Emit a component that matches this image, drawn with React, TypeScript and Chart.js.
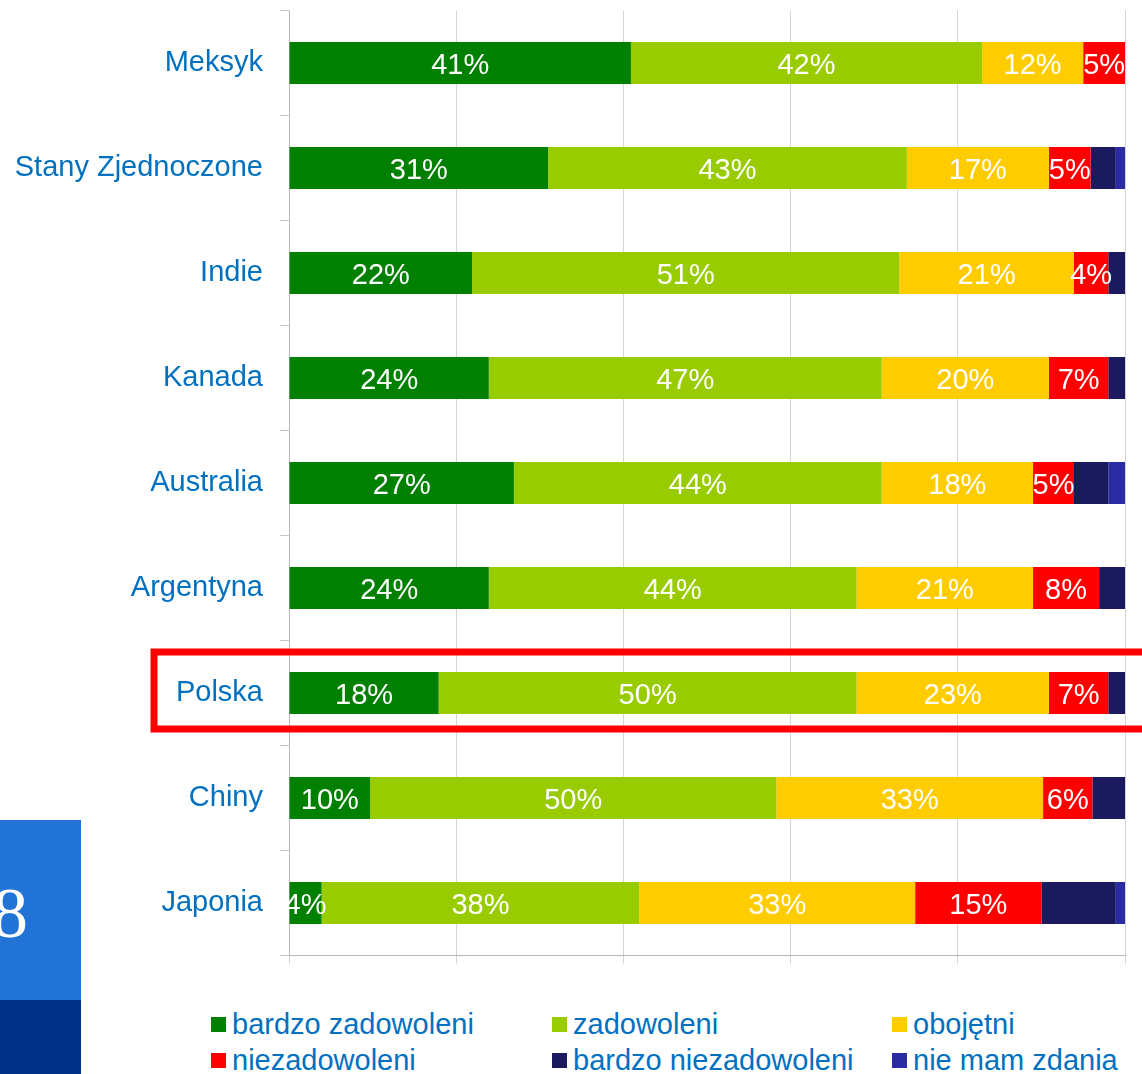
import React, { useEffect, useRef } from "react";
import { Chart, registerables } from "chart.js";

Chart.register(...registerables);

const categories = [
  "Meksyk",
  "Stany Zjednoczone",
  "Indie",
  "Kanada",
  "Australia",
  "Argentyna",
  "Polska",
  "Chiny",
  "Japonia",
];

const seriesNames = [
  "bardzo zadowoleni",
  "zadowoleni",
  "obojętni",
  "niezadowoleni",
  "bardzo niezadowoleni",
  "nie mam zdania",
];
const seriesColors = ["#008000", "#99CC00", "#FFCC00", "#FF0000", "#1B1A5E", "#2B2BA3"];

// measured segment widths (% of bar)
const bardzoZadowoleni = [40.9, 31.0, 21.9, 23.9, 26.9, 23.9, 17.9, 9.7, 3.9];
const zadowoleni = [42.0, 42.9, 51.1, 47.0, 44.0, 44.0, 50.0, 48.6, 38.0];
const obojetni = [12.1, 17.0, 20.9, 20.0, 18.1, 21.1, 23.0, 31.9, 33.0];
const niezadowoleni = [5.0, 5.0, 4.1, 7.1, 4.9, 7.9, 7.1, 5.9, 15.1];
const bardzoNiezadowoleni = [0, 3.0, 2.0, 2.0, 4.1, 3.1, 2.0, 3.9, 8.9];
const nieMamZdania = [0, 1.1, 0, 0, 2.0, 0, 0, 0, 1.1];

// printed labels
const labelsBardzoZadowoleni = ["41%", "31%", "22%", "24%", "27%", "24%", "18%", "10%", "4%"];
const labelsZadowoleni = ["42%", "43%", "51%", "47%", "44%", "44%", "50%", "50%", "38%"];
const labelsObojetni = ["12%", "17%", "21%", "20%", "18%", "21%", "23%", "33%", "33%"];
const labelsNiezadowoleni = ["5%", "5%", "4%", "7%", "5%", "8%", "7%", "6%", "15%"];

const seriesValues = [
  bardzoZadowoleni,
  zadowoleni,
  obojetni,
  niezadowoleni,
  bardzoNiezadowoleni,
  nieMamZdania,
];
const seriesLabels: (string[] | null)[] = [
  labelsBardzoZadowoleni,
  labelsZadowoleni,
  labelsObojetni,
  labelsNiezadowoleni,
  null,
  null,
];

const xTickValues = [0, 20, 40, 60, 80, 100];
const highlightCategory = "Polska";

const FONT = "'Liberation Sans', Arial, Helvetica, sans-serif";
const TEXT_BLUE = "#0070C0";

const segLabelPlugin = {
  id: "segLabels",
  afterDatasetsDraw(chart: any) {
    const ctx = chart.ctx;
    ctx.save();
    ctx.font = `29px ${FONT}`;
    ctx.fillStyle = "#FFFFFF";
    ctx.textAlign = "center";
    ctx.textBaseline = "middle";
    chart.data.datasets.forEach((_ds: any, di: number) => {
      const labels = seriesLabels[di];
      if (!labels) return;
      const meta = chart.getDatasetMeta(di);
      meta.data.forEach((el: any, i: number) => {
        const p = el.getProps(["x", "base", "y"], true);
        ctx.fillText(labels[i], (p.x + p.base) / 2, p.y + 3);
      });
    });
    ctx.restore();
  },
};

const highlightPlugin = {
  id: "highlightBox",
  afterDraw(chart: any) {
    const ctx = chart.ctx;
    const yScale = chart.scales.y;
    const idx = categories.indexOf(highlightCategory);
    const cy = yScale.getPixelForValue(idx);
    ctx.save();
    ctx.strokeStyle = "#FF0000";
    ctx.lineWidth = 7;
    ctx.strokeRect(154, cy - 41, 1100, 77);
    ctx.restore();
  },
};

export default function App() {
  const canvasRef = useRef<HTMLCanvasElement | null>(null);

  useEffect(() => {
    if (!canvasRef.current) return;
    const chart = new Chart(canvasRef.current, {
      type: "bar",
      data: {
        labels: categories,
        datasets: seriesNames.map((name, i) => ({
          label: name,
          data: seriesValues[i],
          backgroundColor: seriesColors[i],
          borderWidth: 0,
          barPercentage: 0.4,
          categoryPercentage: 1,
        })),
      },
      options: {
        indexAxis: "y",
        responsive: false,
        animation: false,
        devicePixelRatio: 1,
        layout: { padding: { top: 10.5, right: 17, left: 0, bottom: 0 } },
        plugins: {
          legend: { display: false },
          tooltip: { enabled: false },
        },
        scales: {
          x: {
            stacked: true,
            min: 0,
            max: 100,
            afterBuildTicks: (scale: any) => {
              scale.ticks = xTickValues.map((v) => ({ value: v }));
            },
            afterFit: (scale: any) => {
              scale.height = 19.5;
              scale.paddingLeft = 0;
              scale.paddingRight = 0;
            },
            ticks: { display: false },
            grid: {
              color: "#D4D4D4",
              lineWidth: 1,
              drawTicks: true,
              tickLength: 8,
            },
            border: { display: true, color: "#B8B8B8", width: 1 },
          },
          y: {
            stacked: true,
            afterFit: (scale: any) => {
              scale.width = 289;
              scale.paddingTop = 0;
              scale.paddingBottom = 0;
            },
            ticks: {
              color: TEXT_BLUE,
              font: { family: FONT, size: 29 },
              padding: 17,
            },
            grid: {
              drawOnChartArea: false,
              drawTicks: true,
              tickLength: 9,
              color: "#C4C4C4",
            },
            border: { display: true, color: "#B8B8B8", width: 1 },
          },
        },
      },
      plugins: [segLabelPlugin, highlightPlugin],
    } as any);
    return () => chart.destroy();
  }, []);

  const legendCols = [211, 552, 892];
  const legendRows = [1024, 1060];

  return (
    <div
      style={{
        position: "absolute",
        left: 0,
        top: 0,
        width: 1142,
        height: 1074,
        overflow: "hidden",
        background: "#FFFFFF",
        fontFamily: FONT,
      }}
    >
      <canvas
        ref={canvasRef}
        width={1142}
        height={975}
        style={{ position: "absolute", left: 0, top: 0, width: 1142, height: 975 }}
      />
      <div
        style={{
          position: "absolute",
          left: 0,
          top: 820,
          width: 81,
          height: 180,
          background: "#2173D6",
          overflow: "hidden",
        }}
      >
        <span
          style={{
            position: "absolute",
            left: -8,
            top: 57,
            fontFamily: "'Liberation Serif', 'Times New Roman', serif",
            fontSize: 72,
            lineHeight: "72px",
            color: "#FFFFFF",
          }}
        >
          8
        </span>
      </div>
      <div
        style={{
          position: "absolute",
          left: 0,
          top: 1000,
          width: 81,
          height: 74,
          background: "#003087",
        }}
      />
      {seriesNames.map((name, i) => {
        const col = i % 3;
        const row = Math.floor(i / 3);
        const sx = legendCols[col];
        const cy = legendRows[row];
        return (
          <React.Fragment key={name}>
            <div
              style={{
                position: "absolute",
                left: sx,
                top: cy - 7,
                width: 15,
                height: 15,
                background: seriesColors[i],
              }}
            />
            <div
              style={{
                position: "absolute",
                left: sx + 21,
                top: cy - 18,
                height: 36,
                lineHeight: "36px",
                fontSize: 29,
                color: TEXT_BLUE,
                whiteSpace: "nowrap",
              }}
            >
              {name}
            </div>
          </React.Fragment>
        );
      })}
    </div>
  );
}
